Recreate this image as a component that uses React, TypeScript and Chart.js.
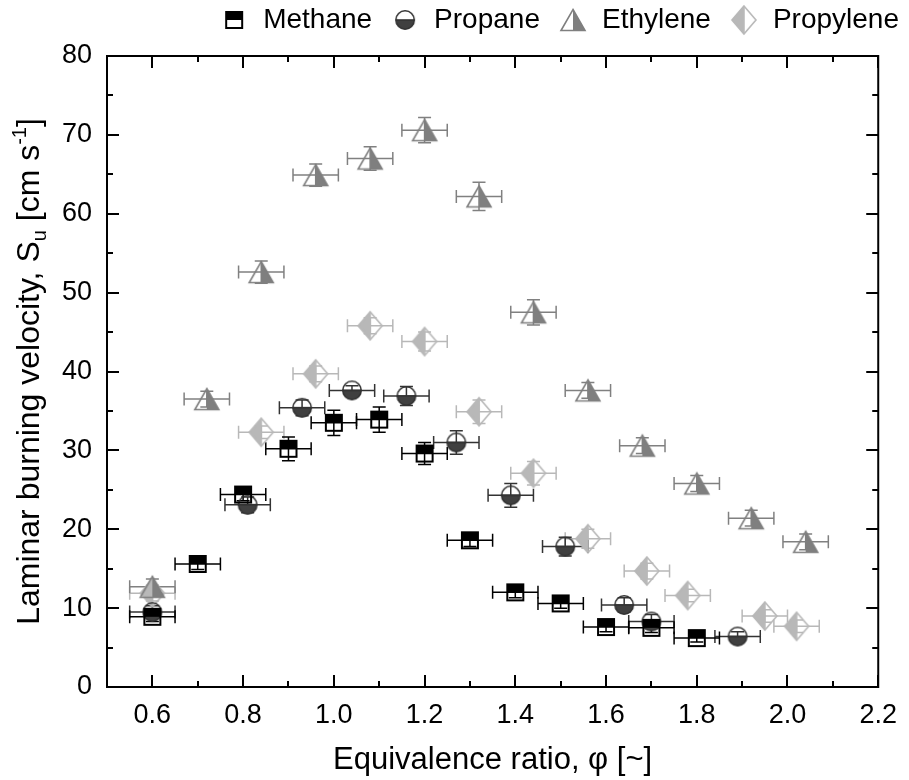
import React, { useEffect, useRef } from 'react';
import { Chart, registerables } from 'chart.js';
Chart.register(...registerables);

// ---------- data ----------
const methaneX = [0.6, 0.7, 0.8, 0.9, 1.0, 1.1, 1.2, 1.3, 1.4, 1.5, 1.6, 1.7, 1.8];
const methaneY = [8.9, 15.6, 24.4, 30.2, 33.5, 33.9, 29.6, 18.6, 12.0, 10.6, 7.6, 7.5, 6.2];
const methaneYErr = [0.6, 0.7, 0.8, 1.5, 1.6, 1.6, 1.4, 0.8, 0.7, 0.6, 0.6, 0.6, 0.5];

const propaneX = [0.6, 0.81, 0.93, 1.04, 1.16, 1.27, 1.39, 1.51, 1.64, 1.7, 1.89];
const propaneY = [9.5, 23.1, 35.4, 37.6, 36.9, 31.0, 24.3, 17.8, 10.4, 8.3, 6.4];
const propaneYErr = [0.8, 1.0, 1.0, 0.6, 1.2, 1.5, 1.5, 1.2, 0.9, 0.9, 0.6];

const ethyleneX = [0.6, 0.72, 0.84, 0.96, 1.08, 1.2, 1.32, 1.44, 1.56, 1.68, 1.8, 1.92, 2.04];
const ethyleneY = [12.7, 36.5, 52.6, 64.9, 67.0, 70.6, 62.2, 47.5, 37.6, 30.6, 25.8, 21.4, 18.4];
const ethyleneYErr = [1.0, 1.0, 1.4, 1.4, 1.5, 1.6, 1.8, 1.6, 1.0, 1.0, 1.0, 1.0, 1.0];

const propyleneX = [0.6, 0.84, 0.96, 1.08, 1.2, 1.32, 1.44, 1.56, 1.69, 1.78, 1.95, 2.02];
const propyleneY = [11.9, 32.3, 39.7, 45.8, 43.8, 34.9, 27.1, 18.8, 14.7, 11.6, 9.0, 7.7];
const propyleneYErr = [1.0, 0.8, 1.0, 1.0, 1.2, 1.5, 1.5, 1.2, 1.0, 0.8, 0.8, 0.8];

const xErrHalf = 0.05;

const seriesNames = ['Methane', 'Propane', 'Ethylene', 'Propylene'];
const xTickValues = [0.6, 0.8, 1.0, 1.2, 1.4, 1.6, 1.8, 2.0, 2.2];
const xMin = 0.5;
const xMax = 2.2;
const yMin = 0;
const yMax = 80;
const yStep = 10;

const xTitle = 'Equivalence ratio, \u03c6 [~]';
const yTitleMain = 'Laminar burning velocity, S';
const yTitleSub = 'u';
const yTitleMid = ' [cm s';
const yTitleSup = '-1';
const yTitleEnd = ']';

const FONT = '"Liberation Sans", Arial, sans-serif';
const TICK_SIZE = 27;
const X_TITLE_SIZE = 31;
const Y_TITLE_SIZE = 32;
const LEGEND_SIZE = 28;

// ---------- markers ----------
function makeMarker(kind: string): HTMLCanvasElement {
  const c = document.createElement('canvas');
  c.width = 32;
  c.height = 32;
  const g = c.getContext('2d') as CanvasRenderingContext2D;
  const cx = 16, cy = 16;
  g.lineJoin = 'miter';
  if (kind === 'square') {
    g.fillStyle = '#000';
    g.fillRect(cx - 9, cy - 9, 18, 9);
    g.strokeStyle = '#000';
    g.lineWidth = 2;
    g.strokeRect(cx - 8, cy - 8, 16, 16);
  } else if (kind === 'circle') {
    const r = 9.2;
    g.fillStyle = '#404040';
    g.beginPath();
    g.arc(cx, cy, r, 0, Math.PI);
    g.closePath();
    g.fill();
    g.strokeStyle = '#333';
    g.lineWidth = 1.6;
    g.beginPath();
    g.arc(cx, cy, r, 0, Math.PI * 2);
    g.stroke();
    g.beginPath();
    g.moveTo(cx - r, cy);
    g.lineTo(cx + r, cy);
    g.stroke();
  } else if (kind === 'triangle') {
    const w = 12, h = 10.5;
    g.fillStyle = '#7f7f7f';
    g.beginPath();
    g.moveTo(cx, cy - h);
    g.lineTo(cx + w, cy + h);
    g.lineTo(cx, cy + h);
    g.closePath();
    g.fill();
    g.strokeStyle = '#7f7f7f';
    g.lineWidth = 1.6;
    g.beginPath();
    g.moveTo(cx, cy - h);
    g.lineTo(cx + w, cy + h);
    g.lineTo(cx - w, cy + h);
    g.closePath();
    g.stroke();
  } else {
    const w = 12, h = 14;
    g.fillStyle = '#b8b8b8';
    g.beginPath();
    g.moveTo(cx, cy - h);
    g.lineTo(cx - w, cy);
    g.lineTo(cx, cy + h);
    g.closePath();
    g.fill();
    g.strokeStyle = '#b8b8b8';
    g.lineWidth = 1.6;
    g.beginPath();
    g.moveTo(cx, cy - h);
    g.lineTo(cx + w, cy);
    g.lineTo(cx, cy + h);
    g.lineTo(cx - w, cy);
    g.closePath();
    g.stroke();
    g.beginPath();
    g.moveTo(cx, cy - h);
    g.lineTo(cx, cy + h);
    g.stroke();
  }
  return c;
}

// ---------- plugins ----------
const legendShiftPlugin = {
  id: 'legendShift',
  afterLayout(chart: any) {
    const lg = chart.legend;
    if (!lg) return;
    const dy = -12, dx = 28;
    lg.top += dy; lg.bottom += dy;
    lg.left += dx; lg.right += dx;
  },
};

const errorBarPlugin = {
  id: 'errorBars',
  beforeDatasetsDraw(chart: any) {
    const ctx = chart.ctx;
    const xs = chart.scales.x;
    const ys = chart.scales.y;
    ctx.save();
    for (let d = chart.data.datasets.length - 1; d >= 0; d--) {
      const ds = chart.data.datasets[d];
      ctx.strokeStyle = ds.errColor;
      ctx.lineWidth = 1.5;
      const cap = 6.5;
      ds.data.forEach((p: any, i: number) => {
        const px = xs.getPixelForValue(p.x);
        const py = ys.getPixelForValue(p.y);
        const xl = xs.getPixelForValue(p.x - xErrHalf);
        const xr = xs.getPixelForValue(p.x + xErrHalf);
        const yt = ys.getPixelForValue(p.y + ds.yErr[i]);
        const yb = ys.getPixelForValue(p.y - ds.yErr[i]);
        ctx.beginPath();
        ctx.moveTo(xl, py); ctx.lineTo(xr, py);
        ctx.moveTo(xl, py - cap); ctx.lineTo(xl, py + cap);
        ctx.moveTo(xr, py - cap); ctx.lineTo(xr, py + cap);
        ctx.moveTo(px, yt); ctx.lineTo(px, yb);
        ctx.moveTo(px - cap, yt); ctx.lineTo(px + cap, yt);
        ctx.moveTo(px - cap, yb); ctx.lineTo(px + cap, yb);
        ctx.stroke();
      });
    }
    ctx.restore();
  },
};

const framePlugin = {
  id: 'frame',
  afterDraw(chart: any) {
    const ctx = chart.ctx;
    const a = chart.chartArea;
    const xs = chart.scales.x;
    const ys = chart.scales.y;
    ctx.save();
    ctx.strokeStyle = '#000';
    ctx.lineWidth = 2;
    ctx.strokeRect(a.left, a.top, a.right - a.left, a.bottom - a.top);
    const major = 12, minor = 6;
    ctx.beginPath();
    const xt = xTickValues;
    const xAll: Array<[number, boolean]> = [];
    xt.forEach((v, i) => {
      xAll.push([v, true]);
      if (i > 0) xAll.push([(v + xt[i - 1]) / 2, false]);
    });
    xAll.push([xt[0] - (xt[1] - xt[0]) / 2, false]);
    xAll.forEach(([v, isMaj]) => {
      const px = Math.round(xs.getPixelForValue(v));
      const L = isMaj ? major : minor;
      ctx.moveTo(px, a.bottom); ctx.lineTo(px, a.bottom - L);
      ctx.moveTo(px, a.top); ctx.lineTo(px, a.top + L);
    });
    for (let v = yMin; v <= yMax; v += yStep / 2) {
      const py = Math.round(ys.getPixelForValue(v));
      const isMaj = Math.abs(v % yStep) < 1e-9;
      const L = isMaj ? major : minor;
      ctx.moveTo(a.left, py); ctx.lineTo(a.left + L, py);
      ctx.moveTo(a.right, py); ctx.lineTo(a.right - L, py);
    }
    ctx.stroke();

    // y title with subscript / superscript
    const big = Y_TITLE_SIZE + 'px ' + FONT;
    const small = Math.round(Y_TITLE_SIZE * 0.62) + 'px ' + FONT;
    ctx.fillStyle = '#000';
    ctx.font = big;
    const w1 = ctx.measureText(yTitleMain).width;
    const w3 = ctx.measureText(yTitleMid).width;
    const w5 = ctx.measureText(yTitleEnd).width;
    ctx.font = small;
    const w2 = ctx.measureText(yTitleSub).width;
    const w4 = ctx.measureText(yTitleSup).width;
    const total = w1 + w2 + w3 + w4 + w5;
    const cy = (a.top + a.bottom) / 2;
    ctx.translate(39, cy);
    ctx.rotate(-Math.PI / 2);
    ctx.textBaseline = 'alphabetic';
    ctx.textAlign = 'left';
    let x = -total / 2;
    ctx.font = big; ctx.fillText(yTitleMain, x, 0); x += w1;
    ctx.font = small; ctx.fillText(yTitleSub, x, 7); x += w2;
    ctx.font = big; ctx.fillText(yTitleMid, x, 0); x += w3;
    ctx.font = small; ctx.fillText(yTitleSup, x, -13); x += w4;
    ctx.font = big; ctx.fillText(yTitleEnd, x, 0);
    ctx.restore();
  },
};

export default function App() {
  const ref = useRef<HTMLCanvasElement | null>(null);
  useEffect(() => {
    const canvas = ref.current;
    if (!canvas) return;
    const markers = {
      square: makeMarker('square'),
      circle: makeMarker('circle'),
      triangle: makeMarker('triangle'),
      diamond: makeMarker('diamond'),
    };
    const mk = (xs: number[], ys: number[]) => xs.map((x, i) => ({ x, y: ys[i] }));
    const chart = new Chart(canvas, {
      type: 'scatter',
      data: {
        datasets: [
          { label: seriesNames[0], data: mk(methaneX, methaneY), yErr: methaneYErr, errColor: '#000', pointStyle: markers.square, pointRadius: 9 } as any,
          { label: seriesNames[1], data: mk(propaneX, propaneY), yErr: propaneYErr, errColor: '#333', pointStyle: markers.circle, pointRadius: 9 } as any,
          { label: seriesNames[2], data: mk(ethyleneX, ethyleneY), yErr: ethyleneYErr, errColor: '#808080', pointStyle: markers.triangle, pointRadius: 9 } as any,
          { label: seriesNames[3], data: mk(propyleneX, propyleneY), yErr: propyleneYErr, errColor: '#b8b8b8', pointStyle: markers.diamond, pointRadius: 9 } as any,
        ],
      },
      options: {
        responsive: false,
        animation: false,
        layout: { padding: { top: 0, right: 20, left: 0, bottom: 0 } },
        plugins: {
          tooltip: { enabled: false },
          legend: {
            position: 'top',
            align: 'end',
            labels: {
              usePointStyle: true,
              pointStyleWidth: 30,
              padding: 18,
              color: '#000',
              font: { size: LEGEND_SIZE, family: FONT },
            },
          },
        },
        scales: {
          x: {
            type: 'linear',
            min: xMin,
            max: xMax,
            grid: { display: false, drawTicks: false },
            border: { display: false },
            afterBuildTicks: (scale: any) => {
              scale.ticks = xTickValues.map((v) => ({ value: v }));
            },
            afterFit: (scale: any) => { scale.height = 93; },
            ticks: {
              padding: 12,
              color: '#000',
              font: { size: TICK_SIZE, family: FONT },
              callback: (v: any) => Number(v).toFixed(1),
            },
            title: {
              display: true,
              text: xTitle,
              color: '#000',
              font: { size: X_TITLE_SIZE, family: FONT },
              padding: { top: 4, bottom: 1 },
            },
          },
          y: {
            type: 'linear',
            min: yMin,
            max: yMax,
            grid: { display: false, drawTicks: false },
            border: { display: false },
            afterFit: (scale: any) => { scale.width = 107; },
            ticks: {
              stepSize: yStep,
              padding: 15,
              color: '#000',
              font: { size: TICK_SIZE, family: FONT },
            },
          },
        },
      } as any,
      plugins: [legendShiftPlugin, errorBarPlugin, framePlugin],
    });
    return () => chart.destroy();
  }, []);
  return (
    <div style={{ position: 'absolute', left: 0, top: 0, width: 909, height: 780, background: '#fff' }}>
      <canvas ref={ref} width={909} height={780} style={{ display: 'block' }} />
    </div>
  );
}
